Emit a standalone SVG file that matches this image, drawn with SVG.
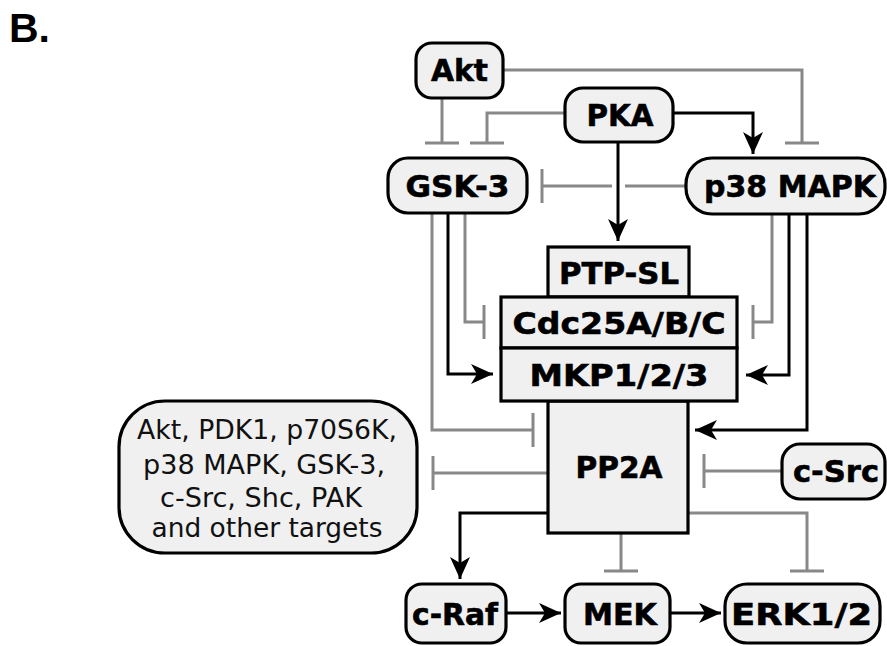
<svg xmlns="http://www.w3.org/2000/svg" width="887" height="646" viewBox="0 0 887 646">
<style>
.box{fill:#f0f0f0;stroke:#000;stroke-width:3.2}
.lbl{font-family:"DejaVu Sans",Verdana,sans-serif;font-weight:bold;font-size:31px;fill:#000;stroke:#000;stroke-width:0.6;text-anchor:middle}
.txt{font-family:"DejaVu Sans",Verdana,sans-serif;font-size:26px;fill:#111;text-anchor:middle}
.inh{fill:none;stroke:#888;stroke-width:3;marker-end:url(#tee)}
.act{fill:none;stroke:#000;stroke-width:3;marker-end:url(#arr)}
</style>
<defs>
<marker id="arr" markerUnits="userSpaceOnUse" markerWidth="22" markerHeight="20" refX="22" refY="10" orient="auto">
<path d="M0,0 L22,10 L0,20 L6,10 Z" fill="#000"/>
</marker>
<marker id="tee" markerUnits="userSpaceOnUse" markerWidth="4" markerHeight="34" refX="2" refY="17" orient="auto">
<path d="M2,0 V34" stroke="#888" stroke-width="3" fill="none"/>
</marker>
</defs>
<rect width="887" height="646" fill="#fff"/>
<text x="9" y="42" font-family="Liberation Sans,Arial,sans-serif" font-weight="bold" font-size="41">B.</text>

<g id="connectors">
<path class="inh" d="M442,98 V143"/>
<path class="inh" d="M565,113 H487 V143"/>
<path class="inh" d="M503,70 H802 V143"/>
<path d="M686,186 H625" fill="none" stroke="#888" stroke-width="3"/>
<path class="inh" d="M612,186 H542"/>
<path class="inh" d="M432,213 V430 H533"/>
<path class="inh" d="M465,213 V322 H484"/>
<path class="inh" d="M772,214 V322 H753"/>
<path class="inh" d="M782,471 H704"/>
<path class="inh" d="M548,473 H433"/>
<path class="inh" d="M621,533 V571"/>
<path class="inh" d="M688,513 H807 V571"/>
<path class="act" d="M673,113 H753 V154"/>
<path class="act" d="M618,142 V241"/>
<path class="act" d="M448,213 V374 H493"/>
<path class="act" d="M789,214 V375 H746"/>
<path class="act" d="M807,214 V430 H695"/>
<path class="act" d="M548,513 H460 V579"/>
<path class="act" d="M506,613 H561"/>
<path class="act" d="M670,613 H721"/>
</g>

<g id="akt"><rect class="box" x="416" y="43" width="87" height="55" rx="16"/><text class="lbl" x="459.5" y="81" textLength="57" lengthAdjust="spacingAndGlyphs">Akt</text></g>
<g id="pka"><rect class="box" x="565" y="88" width="108" height="54" rx="18"/><text class="lbl" x="620" y="126" textLength="67" lengthAdjust="spacingAndGlyphs">PKA</text></g>
<g id="gsk3"><rect class="box" x="388" y="158" width="139" height="55" rx="20"/><text class="lbl" x="457.5" y="197" textLength="104" lengthAdjust="spacingAndGlyphs">GSK-3</text></g>
<g id="p38"><rect class="box" x="686" y="158" width="199" height="56" rx="26"/><text class="lbl" x="790" y="197" textLength="172" lengthAdjust="spacingAndGlyphs">p38 MAPK</text></g>
<g id="ptpsl"><rect class="box" x="548" y="247" width="141" height="50"/><text class="lbl" x="619" y="284" textLength="120" lengthAdjust="spacingAndGlyphs">PTP-SL</text></g>
<g id="pp2a"><rect class="box" x="548" y="401" width="140" height="132"/><text class="lbl" x="619" y="478" textLength="87" lengthAdjust="spacingAndGlyphs">PP2A</text></g>
<g id="cdc25"><rect class="box" x="501" y="297" width="236" height="51"/><text class="lbl" x="619" y="334" textLength="213" lengthAdjust="spacingAndGlyphs">Cdc25A/B/C</text></g>
<g id="mkp"><rect class="box" x="501" y="348" width="236" height="53"/><text class="lbl" x="619" y="386" textLength="179" lengthAdjust="spacingAndGlyphs">MKP1/2/3</text></g>
<g id="csrc"><rect class="box" x="782" y="444" width="103" height="55" rx="18"/><text class="lbl" x="836" y="482" textLength="86" lengthAdjust="spacingAndGlyphs">c-Src</text></g>
<g id="targets"><rect class="box" x="119" y="401" width="298" height="152" rx="46"/>
<text class="txt" x="267" y="439" textLength="260" lengthAdjust="spacingAndGlyphs">Akt, PDK1, p70S6K,</text>
<text class="txt" x="264" y="474" textLength="242" lengthAdjust="spacingAndGlyphs">p38 MAPK, GSK-3,</text>
<text class="txt" x="261" y="507" textLength="202" lengthAdjust="spacingAndGlyphs">c-Src, Shc, PAK</text>
<text class="txt" x="267" y="537" textLength="231" lengthAdjust="spacingAndGlyphs">and other targets</text></g>
<g id="craf"><rect class="box" x="406" y="584" width="100" height="59" rx="16"/><text class="lbl" x="455" y="625" textLength="86" lengthAdjust="spacingAndGlyphs">c-Raf</text></g>
<g id="mek"><rect class="box" x="565" y="584" width="105" height="59" rx="16"/><text class="lbl" x="620" y="625" textLength="74" lengthAdjust="spacingAndGlyphs">MEK</text></g>
<g id="erk"><rect class="box" x="725" y="584" width="155" height="59" rx="22"/><text class="lbl" x="801.5" y="625" textLength="141" lengthAdjust="spacingAndGlyphs">ERK1/2</text></g>
</svg>
